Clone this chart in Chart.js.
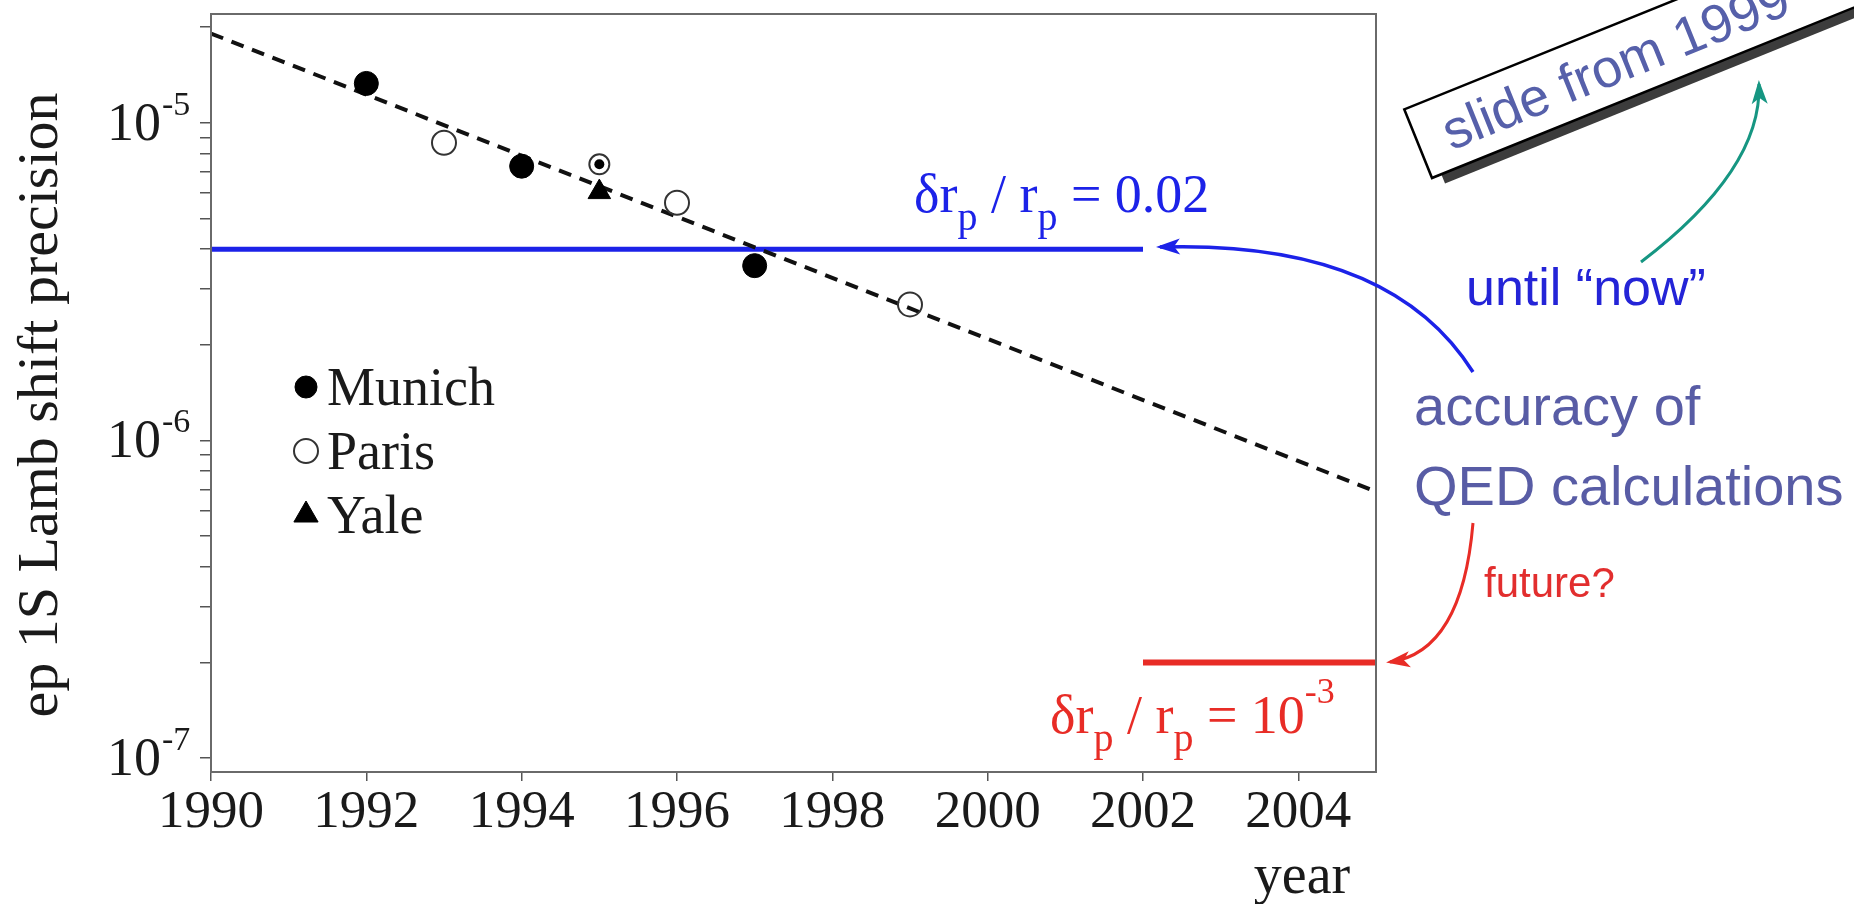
<!DOCTYPE html>
<html>
<head>
<meta charset="utf-8">
<script src="https://cdn.jsdelivr.net/npm/chart.js@4.4.1/dist/chart.umd.min.js"></script>
<style>
  html, body { margin: 0; padding: 0; background: #fff; }
  #wrap { width: 1854px; height: 904px; }
</style>
</head>
<body>
<div id="wrap"><canvas id="lambChart" width="1854" height="904"></canvas></div>
<script>
// 1S Lamb shift measurements (relative precision per year)
var munichYears = [1992, 1994, 1997];
var munichPrecision = [1.33e-5, 7.3e-6, 3.55e-6];
var parisYears = [1993, 1995, 1996, 1999];
var parisPrecision = [8.65e-6, 7.4e-6, 5.6e-6, 2.68e-6];
var yaleYears = [1995];
var yalePrecision = [6.05e-6];
// small dot sitting inside the 1995 Paris ring
var dotYears = [1995];
var dotPrecision = [7.4e-6];

// dashed trend through the points
var trendYears = [1990, 2005];
var trendPrecision = [1.91e-5, 6.9e-7];

// proton radius limits
var limit002Years = [1990, 2002];
var limit002Precision = [4e-6, 4e-6];
var limit1e3Years = [2002, 2005];
var limit1e3Precision = [2e-7, 2e-7];

var yearTicks = [1990, 1992, 1994, 1996, 1998, 2000, 2002, 2004];
var decadeExponents = [-5, -6, -7];

var blue = 'rgb(28,34,232)';
var red = 'rgb(232,44,38)';
var serif = 'Liberation Serif';
var sans = 'Liberation Sans';

function pts(xs, ys) {
    return xs.map(function (x, i) { return { x: x, y: ys[i] }; });
}

// minor + major log ticks, 1..9 per decade
var logTicks = [];
for (var e = -8; e <= -5; e++) {
    for (var m = 1; m <= 9; m++) {
        var v = m * Math.pow(10, e);
        if (v > 9.04e-8 && v < 2.2e-5) logTicks.push(v);
    }
}

// text with sub/superscripts, drawn part by part
function richText(ctx, parts, x, y, color) {
    ctx.fillStyle = color;
    ctx.textAlign = 'left';
    ctx.textBaseline = 'alphabetic';
    parts.forEach(function (p) {
        ctx.font = p.size + 'px "' + serif + '"';
        ctx.fillText(p.t, x, y + (p.dy || 0));
        x += ctx.measureText(p.t).width;
    });
}

function curvedArrow(ctx, p0, c, p2, color, lw) {
    ctx.save();
    ctx.strokeStyle = color;
    ctx.fillStyle = color;
    ctx.lineWidth = lw;
    ctx.beginPath();
    ctx.moveTo(p0[0], p0[1]);
    ctx.quadraticCurveTo(c[0], c[1], p2[0], p2[1]);
    ctx.stroke();
    var a = Math.atan2(p2[1] - c[1], p2[0] - c[0]);
    var len = 20, half = 8;
    ctx.translate(p2[0], p2[1]);
    ctx.rotate(a);
    ctx.beginPath();
    ctx.moveTo(4, 0);
    ctx.lineTo(-len, -half);
    ctx.lineTo(-len + 6, 0);
    ctx.lineTo(-len, half);
    ctx.closePath();
    ctx.fill();
    ctx.restore();
}

var decorPlugin = {
    id: 'decor',
    afterDraw: function (chart) {
        var ctx = chart.ctx;
        var area = chart.chartArea;
        var ys = chart.scales.y;
        ctx.save();

        // plot frame
        ctx.strokeStyle = '#6a6a6a';
        ctx.lineWidth = 2;
        ctx.strokeRect(area.left, area.top, area.right - area.left, area.bottom - area.top);

        // decade labels 10^n
        decadeExponents.forEach(function (ex) {
            var py = ys.getPixelForValue(Math.pow(10, ex));
            ctx.fillStyle = '#1a1a1a';
            ctx.textBaseline = 'alphabetic';
            ctx.textAlign = 'right';
            ctx.font = '54px "' + serif + '"';
            ctx.fillText('10', 161, py + 17);
            ctx.textAlign = 'left';
            ctx.font = '34px "' + serif + '"';
            ctx.fillText(String(ex), 162, py - 8);
        });

        // y axis title
        ctx.save();
        ctx.translate(42, 405);
        ctx.rotate(-Math.PI / 2);
        ctx.fillStyle = '#1a1a1a';
        ctx.font = '58px "' + serif + '"';
        ctx.textAlign = 'center';
        ctx.textBaseline = 'middle';
        ctx.fillText('ep 1S Lamb shift precision', 0, 0);
        ctx.restore();

        // legend inside the plot
        var items = chart.data.datasets.filter(function (d) { return d.inLegend; });
        items.forEach(function (d, i) {
            var cy = 387 + i * 64;
            ctx.save();
            ctx.fillStyle = d.backgroundColor;
            ctx.strokeStyle = d.borderColor;
            ctx.lineWidth = d.borderWidth;
            Chart.helpers.drawPoint(ctx, {
                pointStyle: d.pointStyle, rotation: 0,
                radius: d.legendRadius, borderWidth: d.borderWidth
            }, 306, cy);
            ctx.restore();
            ctx.fillStyle = '#1a1a1a';
            ctx.font = '54px "' + serif + '"';
            ctx.textAlign = 'left';
            ctx.textBaseline = 'alphabetic';
            ctx.fillText(d.label, 327, cy + 18);
        });

        // limit labels
        richText(ctx, [
            { t: '\u03b4r', size: 54 }, { t: 'p', size: 40, dy: 18 },
            { t: ' / r', size: 54 }, { t: 'p', size: 40, dy: 18 },
            { t: ' = 0.02', size: 54 }
        ], 914, 212, blue);
        richText(ctx, [
            { t: '\u03b4r', size: 54 }, { t: 'p', size: 40, dy: 18 },
            { t: ' / r', size: 54 }, { t: 'p', size: 40, dy: 18 },
            { t: ' = 10', size: 54 }, { t: '-3', size: 36, dy: -30 }
        ], 1050, 733, red);

        // x axis title
        ctx.fillStyle = '#1a1a1a';
        ctx.font = '56px "' + serif + '"';
        ctx.textAlign = 'center';
        ctx.textBaseline = 'alphabetic';
        ctx.fillText('year', 1302, 893);

        // tilted "slide from 1999" tag
        ctx.save();
        ctx.translate(1432, 178);
        ctx.rotate(-22 * Math.PI / 180);
        ctx.fillStyle = '#3c3c3c';
        ctx.fillRect(10, -64, 520, 74);
        ctx.fillStyle = '#fff';
        ctx.fillRect(0, -74, 520, 74);
        ctx.strokeStyle = '#000';
        ctx.lineWidth = 2.5;
        ctx.strokeRect(0, -74, 520, 74);
        ctx.fillStyle = 'rgb(86,96,170)';
        ctx.font = '54px "' + sans + '"';
        ctx.textAlign = 'left';
        ctx.fillText('slide from 1999', 28, -18);
        ctx.restore();

        // side notes
        ctx.textAlign = 'left';
        ctx.textBaseline = 'alphabetic';
        ctx.font = '52px "' + sans + '"';
        ctx.fillStyle = 'rgb(36,36,215)';
        ctx.fillText('until \u201cnow\u201d', 1466, 305);
        ctx.font = '56px "' + sans + '"';
        ctx.fillStyle = 'rgb(88,92,165)';
        ctx.fillText('accuracy of', 1414, 425);
        ctx.fillText('QED calculations', 1414, 505);
        ctx.font = '42px "' + sans + '"';
        ctx.fillStyle = 'rgb(226,46,46)';
        ctx.fillText('future?', 1484, 597);

        // arrows
        curvedArrow(ctx, [1641, 262], [1762, 170], [1759, 84], 'rgb(22,150,130)', 3);
        curvedArrow(ctx, [1473, 372], [1390, 240], [1160, 247], blue, 3.5);
        curvedArrow(ctx, [1473, 523], [1462, 652], [1390, 662], red, 3);

        ctx.restore();
    }
};

var ctx = document.getElementById('lambChart').getContext('2d');

var data = {
    datasets: [
        {
            label: 'Munich',
            inLegend: true,
            legendRadius: 11,
            data: pts(munichYears, munichPrecision),
            pointStyle: 'circle',
            pointRadius: 12,
            backgroundColor: '#000',
            borderColor: '#000',
            borderWidth: 1,
            order: 0
        },
        {
            label: 'Paris',
            inLegend: true,
            legendRadius: 12,
            data: pts(parisYears, parisPrecision),
            pointStyle: 'circle',
            pointRadius: function (c) { return c.raw && c.raw.x === 1995 ? 10 : 12; },
            backgroundColor: 'rgba(0,0,0,0)',
            borderColor: '#333',
            borderWidth: 2,
            order: 0
        },
        {
            label: 'Yale',
            inLegend: true,
            legendRadius: 14,
            data: pts(yaleYears, yalePrecision),
            pointStyle: 'triangle',
            pointRadius: 13,
            backgroundColor: '#000',
            borderColor: '#000',
            borderWidth: 1,
            order: 0
        },
        {
            label: 'dot',
            data: pts(dotYears, dotPrecision),
            pointStyle: 'circle',
            pointRadius: 5,
            backgroundColor: '#000',
            borderColor: '#000',
            borderWidth: 0,
            order: 0
        },
        {
            label: 'trend',
            data: pts(trendYears, trendPrecision),
            showLine: true,
            borderColor: '#111',
            borderWidth: 4,
            borderDash: [13, 9],
            pointRadius: 0,
            order: 1
        },
        {
            label: 'dr/r = 0.02',
            data: pts(limit002Years, limit002Precision),
            showLine: true,
            borderColor: blue,
            borderWidth: 5,
            pointRadius: 0,
            order: 2
        },
        {
            label: 'dr/r = 1e-3',
            data: pts(limit1e3Years, limit1e3Precision),
            showLine: true,
            borderColor: red,
            borderWidth: 6,
            pointRadius: 0,
            order: 2
        }
    ]
};

var lambChart = new Chart(ctx, {
    type: 'scatter',
    data: data,
    plugins: [decorPlugin],
    options: {
        responsive: false,
        animation: false,
        layout: { padding: { left: 0, right: 478, top: 11, bottom: 0 } },
        plugins: { legend: { display: false }, tooltip: { enabled: false } },
        scales: {
            x: {
                type: 'linear',
                min: 1990,
                max: 2005,
                afterBuildTicks: function (s) { s.ticks = yearTicks.map(function (v) { return { value: v }; }); },
                afterFit: function (s) { s.height = 132; },
                ticks: {
                    color: '#1a1a1a',
                    font: { family: serif, size: 53 },
                    padding: 0,
                    maxRotation: 0,
                    autoSkip: false,
                    callback: function (v) { return String(v); }
                },
                grid: { drawOnChartArea: false, tickLength: 9, color: '#555', lineWidth: 1.5 },
                border: { color: '#6a6a6a', width: 2 }
            },
            y: {
                type: 'logarithmic',
                min: 9.04e-8,
                max: 2.2e-5,
                afterBuildTicks: function (s) { s.ticks = logTicks.map(function (v) { return { value: v }; }); },
                afterFit: function (s) { s.width = 211; },
                ticks: { display: false },
                grid: { drawOnChartArea: false, tickLength: 11, color: '#555', lineWidth: 1.5 },
                border: { color: '#6a6a6a', width: 2 }
            }
        }
    }
});
</script>
</body>
</html>
